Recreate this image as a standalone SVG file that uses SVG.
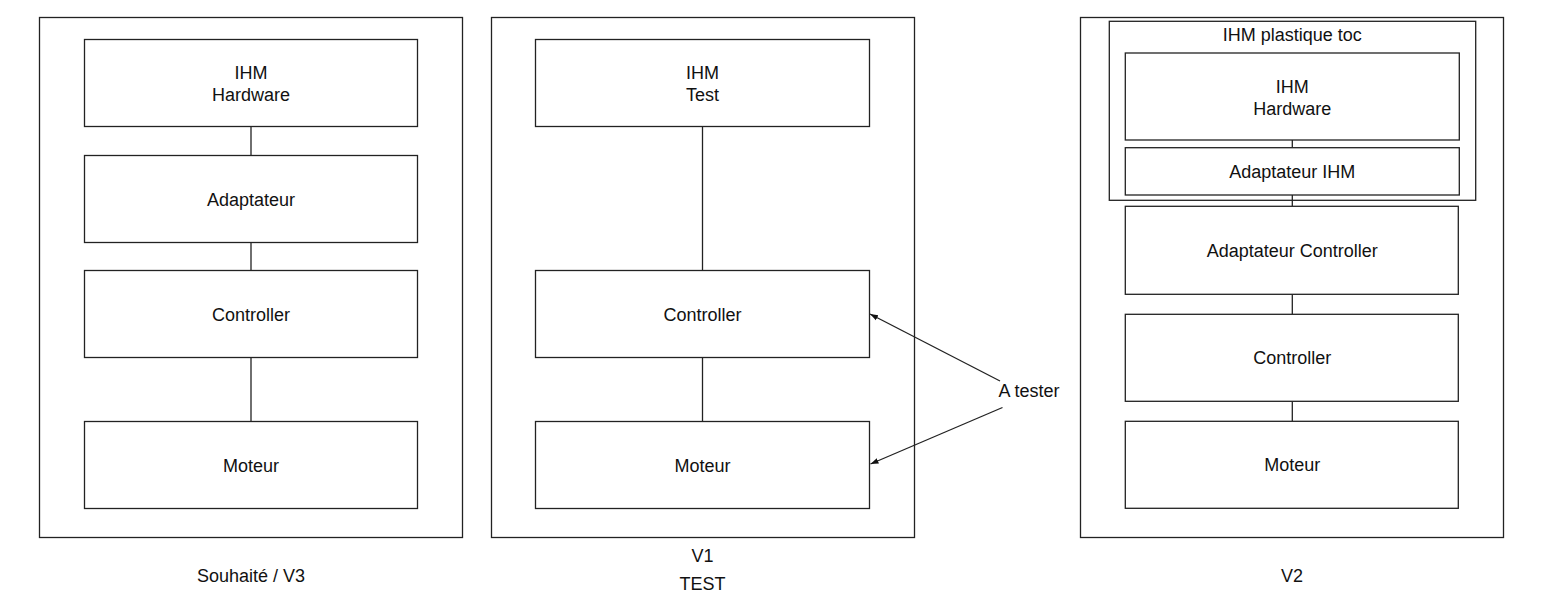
<svg xmlns="http://www.w3.org/2000/svg" width="1541" height="597" viewBox="0 0 1541 597">
<style>
.box{fill:#fff;stroke:#222;stroke-width:1.3}
.frame{fill:none;stroke:#222;stroke-width:1.3}
.t{font-family:"Liberation Sans",Arial,sans-serif;font-size:18px;fill:#111;text-anchor:middle}
.c{stroke:#222;stroke-width:1.3;fill:none}
</style>
<defs>
<marker id="ah" viewBox="0 0 10 10" refX="10" refY="5" markerWidth="8" markerHeight="8" markerUnits="userSpaceOnUse" orient="auto">
<path d="M0,1.5 L10,5 L0,8.5 z" fill="#111"/>
</marker>
</defs>
<rect width="1541" height="597" fill="#fff"/>
<g id="panel-v3">
<rect class="frame" x="39.5" y="17.5" width="423" height="520"/>
<text class="t" x="251" y="582">Souhaité / V3</text>
</g>
<g id="panel-v1">
<rect class="frame" x="491.5" y="17.5" width="423" height="520"/>
<text class="t" x="702.5" y="562">V1</text>
<text class="t" x="702.5" y="590">TEST</text>
</g>
<g id="panel-v2">
<rect class="frame" x="1080.5" y="17.5" width="423" height="520"/>
<text class="t" x="1292" y="582">V2</text>
</g>
<g id="connectors">
<line class="c" x1="251" y1="126.5" x2="251" y2="155.5"/>
<line class="c" x1="251" y1="242.5" x2="251" y2="270.5"/>
<line class="c" x1="251" y1="357.5" x2="251" y2="421.5"/>
<line class="c" x1="702.5" y1="126.5" x2="702.5" y2="270.5"/>
<line class="c" x1="702.5" y1="357.5" x2="702.5" y2="421.5"/>
<line class="c" x1="1292.3" y1="140" x2="1292.3" y2="147.7"/>
<line class="c" x1="1292.3" y1="195" x2="1292.3" y2="206.3"/>
<line class="c" x1="1292.3" y1="294.3" x2="1292.3" y2="314.3"/>
<line class="c" x1="1292.3" y1="401.3" x2="1292.3" y2="421.3"/>
<line class="c" x1="1000" y1="381" x2="870" y2="314" marker-end="url(#ah)"/>
<line class="c" x1="1002.5" y1="407.5" x2="870.5" y2="464" marker-end="url(#ah)"/>
</g>
<g id="v3-ihm">
<rect class="box" x="84.5" y="39.5" width="333" height="87"/>
<text class="t" x="251" y="79">IHM</text>
<text class="t" x="251" y="100.7">Hardware</text>
</g>
<g id="v3-adaptateur">
<rect class="box" x="84.5" y="155.5" width="333" height="87"/>
<text class="t" x="251" y="205.5">Adaptateur</text>
</g>
<g id="v3-controller">
<rect class="box" x="84.5" y="270.5" width="333" height="87"/>
<text class="t" x="251" y="320.5">Controller</text>
</g>
<g id="v3-moteur">
<rect class="box" x="84.5" y="421.5" width="333" height="87"/>
<text class="t" x="251" y="471.5">Moteur</text>
</g>
<g id="v1-ihm">
<rect class="box" x="535.5" y="39.5" width="334" height="87"/>
<text class="t" x="702.5" y="79">IHM</text>
<text class="t" x="702.5" y="100.7">Test</text>
</g>
<g id="v1-controller">
<rect class="box" x="535.5" y="270.5" width="334" height="87"/>
<text class="t" x="702.5" y="320.5">Controller</text>
</g>
<g id="v1-moteur">
<rect class="box" x="535.5" y="421.5" width="334" height="87"/>
<text class="t" x="702.5" y="471.5">Moteur</text>
</g>
<g id="a-tester">
<text class="t" x="1029" y="396.7">A tester</text>
</g>
<g id="v2-ihm-plastique">
<rect class="frame" x="1109.3" y="21.3" width="366.4" height="179"/>
<text class="t" x="1292.3" y="40.7">IHM plastique toc</text>
</g>
<g id="v2-ihm">
<rect class="box" x="1125.3" y="53" width="334" height="87"/>
<text class="t" x="1292.3" y="93.3">IHM</text>
<text class="t" x="1292.3" y="115">Hardware</text>
</g>
<g id="v2-adaptateur-ihm">
<rect class="box" x="1125.3" y="147.7" width="334" height="47.3"/>
<text class="t" x="1292.3" y="177.8">Adaptateur IHM</text>
</g>
<g id="v2-adaptateur-controller">
<rect class="box" x="1125.3" y="206.3" width="333" height="88"/>
<text class="t" x="1292.3" y="257">Adaptateur Controller</text>
</g>
<g id="v2-controller">
<rect class="box" x="1125.3" y="314.3" width="333" height="87"/>
<text class="t" x="1292.3" y="364.3">Controller</text>
</g>
<g id="v2-moteur">
<rect class="box" x="1125.3" y="421.3" width="333" height="87"/>
<text class="t" x="1292.3" y="471.3">Moteur</text>
</g>
</svg>
